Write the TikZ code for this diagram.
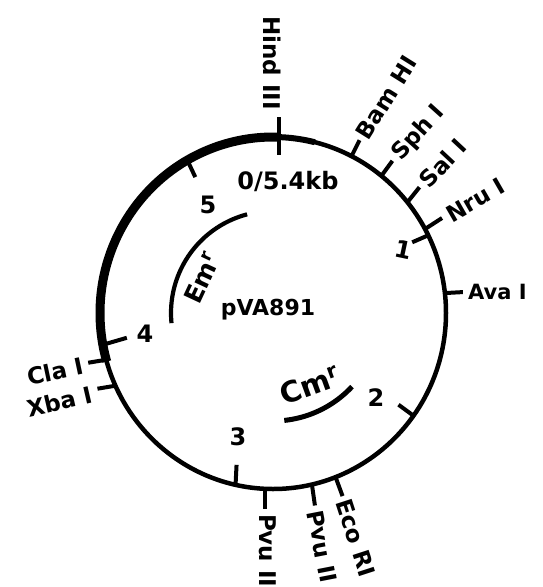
\documentclass[tikz,border=0pt]{standalone}
\usepackage{fontspec}
\setmainfont{DejaVu Sans}
\usetikzlibrary{calc}
\begin{document}
\begin{tikzpicture}[x=1pt,y=-1pt,
  ring/.style={line width=4.5pt},
  thickring/.style={line width=9pt},
  tickline/.style={line width=4pt},
  resarc/.style={line width=4.2pt},
  lab/.style={font=\fontsize{23}{23}\selectfont\bfseries, inner sep=0pt},
  num/.style={font=\fontsize{24}{24}\selectfont\bfseries, inner sep=0pt}]
\useasboundingbox (0,0) rectangle (543,587);
\coordinate (c) at (273,313);
% plasmid ring
\draw[ring] (c) ellipse [x radius=173, y radius=176];
\draw[thickring] plot[domain=88:196, samples=60, smooth] ({273+173*cos(\x)},{313-176*sin(\x)});
\draw[line width=6pt] plot[domain=76:88, samples=10, smooth] ({273+173*cos(\x)},{313-176*sin(\x)});
% ticks
\foreach \n/\t/\dx/\dy in {bam/63/8/-16, sph/51.2/11/-15, sal/39/12/-15, nru/28.5/17/-11,
  one/26.2/-16/7, ava/6.5/18/-1, two/-35.7/-15/-11, eco/-68.8/7/19, pvua/-77/3/21,
  pvub/-92.7/0/20, three/-102.5/1/-20, xba/204.4/-18/3, cla/195.4/-18/3,
  four/190.4/24/-7, five/119.7/8/17}{
  \coordinate (\n0) at ({273+173*cos(\t)},{313-176*sin(\t)});
  \coordinate (\n1) at ($(\n0)+(\dx,\dy)$);
  \draw[tickline] (\n0) -- (\n1);
}
\coordinate (hind0) at ({273+173*cos(88)},{313-176*sin(88)});
\coordinate (hindA) at ($(hind0)+(0,-20)$);
\coordinate (hindB) at ($(hind0)+(0,18)$);
\draw[tickline] (hindA) -- (hindB);
% enzyme labels
\node[lab, rotate=-90, anchor=east] (hindL) at ($(hindA)+(-7,-7)$) {Hind III};
\node[lab, rotate=58, anchor=west] (bamL) at ($(bam1)+(2,-3)$) {Bam HI};
\node[lab, rotate=48, anchor=west] (sphL) at ($(sph1)+(4,-3)$) {Sph I};
\node[lab, rotate=47, anchor=west] (salL) at ($(sal1)+(4,-3)$) {Sal I};
\node[lab, rotate=30, anchor=west] (nruL) at ($(nru1)+(6,-2)$) {Nru I};
\node[lab, font=\fontsize{21}{21}\selectfont\bfseries, anchor=west] (avaL) at ($(ava1)+(5,0)$) {Ava I};
\node[lab, rotate=-72, anchor=west] (ecoL) at ($(eco1)+(1,4)$) {Eco RI};
\node[lab, rotate=-79, anchor=west] (pvuaL) at ($(pvua1)+(0,5)$) {Pvu II};
\node[lab, rotate=-90, anchor=west] (pvubL) at ($(pvub1)+(3,5)$) {Pvu II};
\node[lab, rotate=12, anchor=east] (claL) at ($(cla1)+(-5,3)$) {Cla I};
\node[lab, rotate=13, anchor=east] (xbaL) at ($(xba1)+(-5,5)$) {Xba I};
% scale numbers
\node[num, rotate=-12] (n1) at (403,250) {1};
\node[num] (n2) at (376,398) {2};
\node[num] (n3) at (238,437) {3};
\node[num] (n4) at (145,334) {4};
\node[num] (n5) at (208,205) {5};
\node[font=\fontsize{24}{24}\selectfont\bfseries, inner sep=0pt] (zero) at (288,181) {0/5.4kb};
\node[font=\fontsize{22}{22}\selectfont\bfseries, inner sep=0pt] (name) at (268,310) {pVA891};
% resistance genes
\draw[resarc] plot[domain=104.7:185.7, samples=40, smooth] ({273+102*cos(\x)},{313-102*sin(\x)});
\draw[line width=5pt] plot[domain=-43:-84, samples=30, smooth] ({273+108*cos(\x)},{313-108*sin(\x)});
\node[font=\fontsize{25}{25}\selectfont\bfseries, inner sep=0pt, rotate=65] (em) at (202,278) {Em\textsuperscript{r}};
\node[font=\fontsize{29}{29}\selectfont\bfseries, inner sep=0pt, rotate=20] (cm) at (310,385) {Cm\textsuperscript{r}};
\end{tikzpicture}
\end{document}
